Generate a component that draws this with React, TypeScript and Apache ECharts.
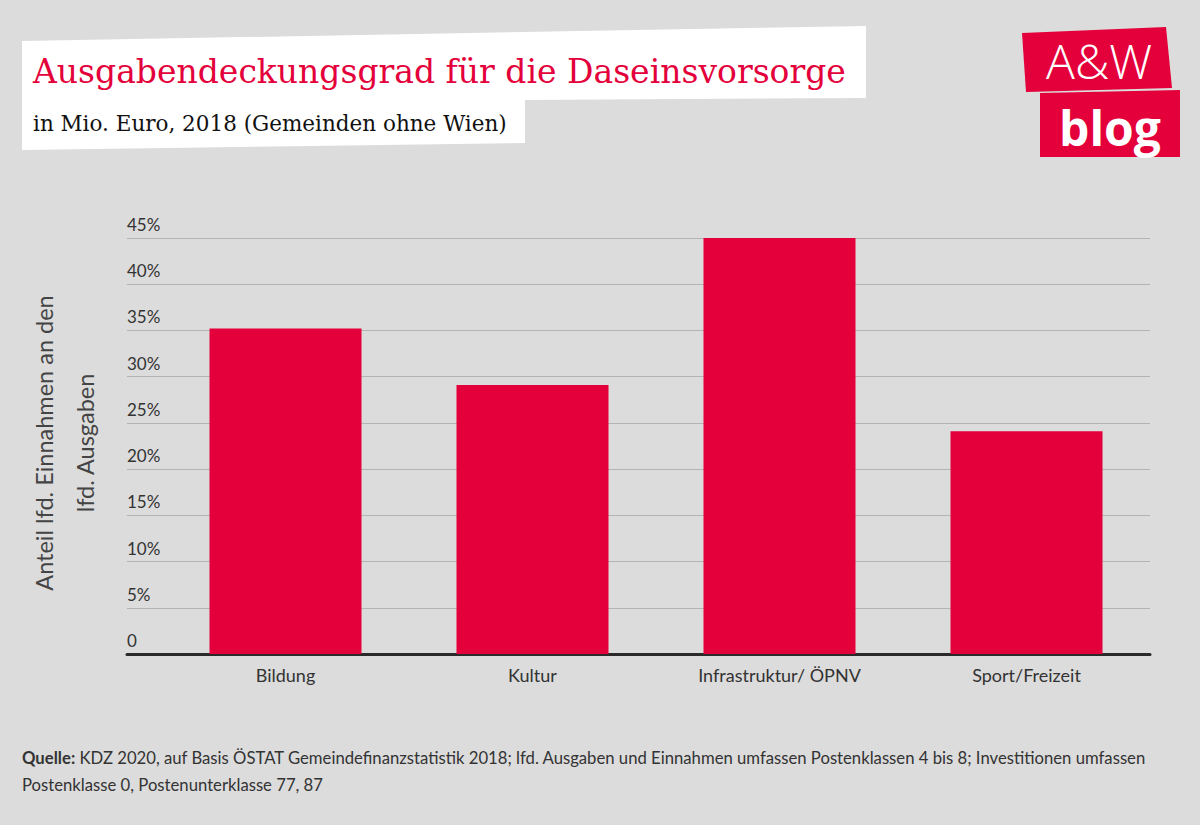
import React, { useEffect, useRef } from "react";
import * as echarts from "echarts";

const categories = ["Bildung", "Kultur", "Infrastruktur/ ÖPNV", "Sport/Freizeit"];
const values = [35.2, 29.1, 45.0, 24.1];
const titleText = "Ausgabendeckungsgrad für die Daseinsvorsorge";
const subtitleText = "in Mio. Euro, 2018 (Gemeinden ohne Wien)";
const yAxisTitle = "Anteil lfd. Einnahmen an den\nlfd. Ausgaben";
const sourceLabel = "Quelle:";
const sourceLine1 = " KDZ 2020, auf Basis ÖSTAT Gemeindefinanzstatistik 2018; lfd. Ausgaben und Einnahmen umfassen Postenklassen 4 bis 8; Investitionen umfassen";
const sourceLine2 = "Postenklasse 0, Postenunterklasse 77, 87";

const RED = "#e4003a";
const SANS = "Lato, 'Open Sans', sans-serif";
const SERIF = "'DejaVu Serif', serif";

export default function App() {
  const ref = useRef<HTMLDivElement>(null);
  useEffect(() => {
    document.body.style.margin = "0";
    const chart = echarts.init(ref.current!, null, { renderer: "svg" });
    const gridTop = 238;
    const gridBottom = 825 - 654;
    chart.setOption({
      animation: false,
      backgroundColor: "#dcdcdc",
      grid: [
        { left: 127, right: 50, top: gridTop, bottom: gridBottom },
        { left: 162, right: 50, top: gridTop, bottom: gridBottom },
      ],
      xAxis: [
        {
          gridIndex: 0,
          type: "category",
          data: categories,
          axisLine: { show: true, lineStyle: { color: "#2a2a2a", width: 3 } },
          axisTick: { show: false },
          axisLabel: { show: false },
        },
        {
          gridIndex: 1,
          type: "category",
          data: categories,
          axisLine: { show: false },
          axisTick: { show: false },
          axisLabel: { fontFamily: SANS, fontSize: 18, color: "#333", margin: 12 },
        },
      ],
      yAxis: [
        {
          gridIndex: 0,
          type: "value",
          min: 0,
          max: 45,
          interval: 5,
          axisLine: { show: false },
          axisTick: { show: false },
          splitLine: { lineStyle: { color: "#b4b4b4", width: 1 } },
          axisLabel: {
            inside: true,
            margin: 0,
            align: "left",
            verticalAlign: "bottom",
            padding: [0, 0, 5, 0],
            fontFamily: SANS,
            fontSize: 17,
            color: "#333",
            formatter: (v: number) => (v === 0 ? "0" : v + "%"),
          },
        },
        {
          gridIndex: 1,
          type: "value",
          min: 0,
          max: 45,
          interval: 5,
          show: false,
          splitLine: { show: false },
        },
      ],
      series: [
        {
          type: "bar",
          xAxisIndex: 1,
          yAxisIndex: 1,
          data: values,
          barWidth: 152,
          itemStyle: { color: RED },
        },
      ],
      graphic: [
        {
          type: "polygon",
          shape: { points: [[22, 41], [866, 26], [866, 98], [525, 100], [525, 143], [22, 150]] },
          style: { fill: "#ffffff" },
          silent: true,
        },
        {
          type: "text",
          x: 33,
          y: 71,
          style: { text: titleText, fontFamily: SERIF, fontSize: 33, fill: RED, verticalAlign: "middle", align: "left" },
        },
        {
          type: "text",
          x: 33,
          y: 123,
          style: { text: subtitleText, fontFamily: SERIF, fontSize: 21.5, fill: "#111", verticalAlign: "middle", align: "left" },
        },
        {
          type: "polygon",
          shape: { points: [[1022, 33], [1166, 27], [1172, 88], [1026, 92]] },
          style: { fill: RED },
        },
        {
          type: "polygon",
          shape: { points: [[1040, 93], [1180, 90], [1180, 157], [1040, 157]] },
          style: { fill: RED },
        },
        {
          type: "text",
          x: 1099,
          y: 60,
          style: { text: "A&W", fontFamily: "'Open Sans', sans-serif", fontWeight: 300, fontSize: 48, fill: "#fff", align: "center", verticalAlign: "middle" },
        },
        {
          type: "text",
          x: 1110,
          y: 127,
          style: { text: "blog", fontFamily: "'Open Sans', sans-serif", fontWeight: 700, fontSize: 48, fill: "#fff", align: "center", verticalAlign: "middle" },
        },
        {
          type: "text",
          x: 64,
          y: 443,
          rotation: Math.PI / 2,
          style: { text: yAxisTitle, fontFamily: SANS, fontSize: 23.5, fill: "#444", align: "center", verticalAlign: "middle", lineHeight: 41 },
        },
        {
          type: "text",
          x: 22,
          y: 758,
          style: {
            text: "{b|" + sourceLabel + "}{r|" + sourceLine1 + "}",
            verticalAlign: "middle",
            rich: {
              b: { fontFamily: SANS, fontWeight: 700, fontSize: 16.7, fill: "#333", color: "#333" },
              r: { fontFamily: SANS, fontSize: 16.7, fill: "#333", color: "#333" },
            },
          },
        },
        {
          type: "text",
          x: 22,
          y: 785,
          style: { text: sourceLine2, fontFamily: SANS, fontSize: 16.7, fill: "#333", verticalAlign: "middle" },
        },
      ],
    });
    return () => chart.dispose();
  }, []);
  return <div ref={ref} style={{ width: 1200, height: 825 }} />;
}
